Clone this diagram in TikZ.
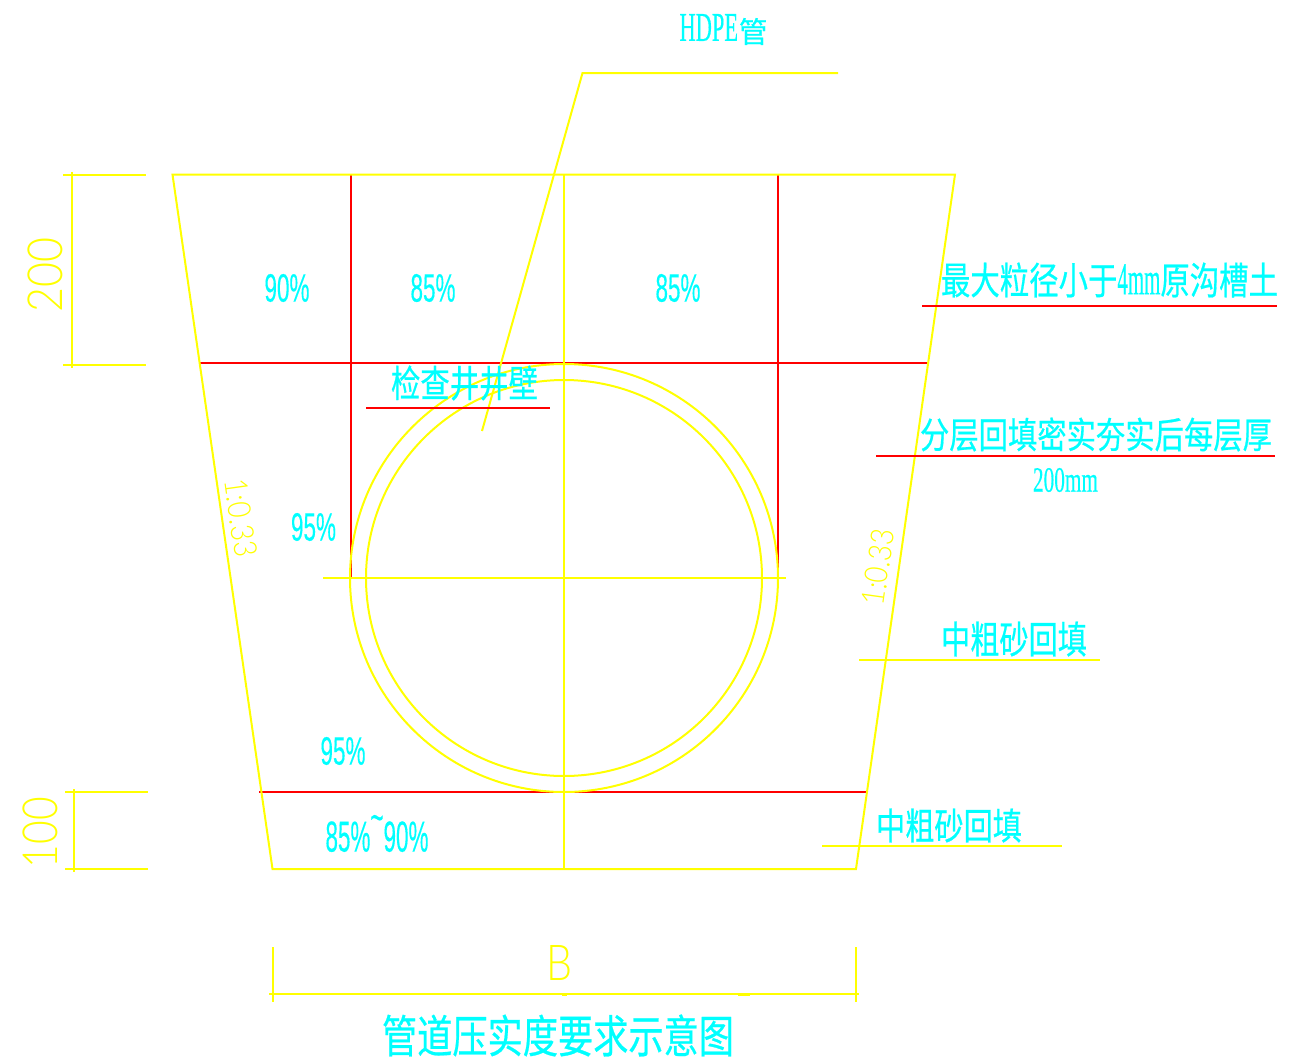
\documentclass[tikz,border=0pt]{standalone}
\usepackage{fontspec}
\usepackage{graphicx}
\setmainfont[FakeBold=0.5]{Liberation Serif}
\newfontfamily\cjk[FakeBold=0.6]{Noto Sans CJK SC}
\newfontfamily\lsans[FakeBold=0.4]{Liberation Sans}
\newfontfamily\thinf{Lato Light}
\definecolor{cadY}{RGB}{255,255,0}
\definecolor{cadR}{RGB}{255,0,0}
\definecolor{cadC}{RGB}{0,255,255}
\tikzset{
  yline/.style={draw=cadY,line width=2pt,line join=miter},
  rline/.style={draw=cadR,line width=2pt},
  cyanlabel/.style={text=cadC,inner sep=0pt,outer sep=0pt},
  yellowlabel/.style={text=cadY,inner sep=0pt,outer sep=0pt},
}
% name, cx, cy, w, h, text
\newcommand{\cyanfit}[6]{\node[cyanlabel] (#1) at (#2,#3) {\resizebox*{#4pt}{#5pt}{#6}};}
% name, cx, cy, w, h, rotation, text
\newcommand{\yellowfit}[7]{\node[yellowlabel,rotate=#6] (#1) at (#2,#3) {\resizebox*{#4pt}{#5pt}{\thinf #7}};}
\begin{document}
\begin{tikzpicture}[x=1pt,y=-1pt]
\fill[white] (0,0) rectangle (1310,1061);
\useasboundingbox (0,0) rectangle (1310,1061);
% points
\coordinate (tl) at (172.5,174.5);
\coordinate (tr) at (955,174.5);
\coordinate (br) at (856,869);
\coordinate (bl) at (272.5,869);
\coordinate (c) at (564,578);
% red layer
\draw[rline] (350.5,174.5) -- (350.5,578);
\draw[rline] (778,174.5) -- (778,578);
\draw[rline] (199,363) -- (928,363);
\draw[rline] (259,792) -- (868,792);
% trench and pipe
\draw[yline] (tl) -- (tr) -- (br) -- (bl) -- cycle;
\draw[yline] (564,174.5) -- (564,869);
\draw[yline] (323,578) -- (786,578);
\draw[yline] (c) circle[radius=214];
\draw[yline] (c) circle[radius=198];
% leaders
\coordinate (ha) at (482,431);
\coordinate (hb) at (582.5,73);
\coordinate (hc) at (838,73);
\draw[yline] (ha) -- (hb) -- (hc);
\draw[rline] (366,408) -- (550,408);
\draw[rline] (922,306) -- (1277,306);
\draw[rline] (876,456) -- (1275,456);
\draw[yline] (859,660) -- (1100,660);
\draw[yline] (822,846) -- (1062,846);
% dimensions
\draw[yline] (63,174.5) -- (146,174.5);
\draw[yline] (63,364.5) -- (146,364.5);
\draw[yline] (72,171.5) -- (72,367.5);
\draw[yline] (65,792) -- (148,792);
\draw[yline] (65,869) -- (148,869);
\draw[yline] (73.5,789) -- (73.5,872);
\draw[yline] (272.5,947) -- (272.5,1002);
\draw[yline] (856,947) -- (856,1002);
\draw[yline] (269,994) -- (859,994);
\draw[draw=cadY,line width=3pt] (562,994) -- (567,994);
\draw[draw=cadY,line width=3pt] (738,994) -- (750,994);
% labels
\cyanfit{lhdpe}{723.5}{29.5}{88}{31}{\raisebox{0.6pt}{\resizebox{20.5pt}{9.2pt}{HDPE}}\hspace{0.3pt}{\cjk 管}}
\cyanfit{la}{287}{288}{45}{28}{\lsans 90\%}
\cyanfit{lb}{433}{288}{45}{28}{\lsans 85\%}
\cyanfit{lc}{678}{288}{45}{28}{\lsans 85\%}
\cyanfit{ld}{464.5}{383}{147}{35}{\cjk 检查井井壁}
\cyanfit{le}{1109.5}{280}{337}{35}{\cjk 最大粒径小于\resizebox{14.6pt}{8pt}{\rmfamily 4mm}原沟槽土}
\cyanfit{lf}{1096}{434.5}{352}{34}{\cjk 分层回填密实夯实后每层厚}
\cyanfit{lg}{1065.5}{480}{65}{24}{200mm}
\cyanfit{lh}{313.5}{527}{45}{28}{\lsans 95\%}
\cyanfit{li}{343}{751}{45}{28}{\lsans 95\%}
\cyanfit{lj}{377}{833.5}{103}{37}{\lsans 85\%\raisebox{0.45em}{\textasciitilde}90\%}
\cyanfit{lk}{1014}{639}{146}{35}{\cjk 中粗砂回填}
\cyanfit{ll}{949}{825.5}{146}{34}{\cjk 中粗砂回填}
\cyanfit{lm}{558}{1035.5}{352}{42}{\cjk 管道压实度要求示意图}
\yellowfit{dima}{45.5}{274.5}{75}{35}{90}{200}
\yellowfit{dimb}{40.5}{832.5}{71}{35}{90}{100}
\yellowfit{dimc}{559.5}{962.5}{26}{35}{0}{B}
\yellowfit{dimd}{241}{518}{78}{23}{-82}{1:0.33}
\yellowfit{dime}{878}{567}{77}{23}{82}{1:0.33}
\end{tikzpicture}
\end{document}
